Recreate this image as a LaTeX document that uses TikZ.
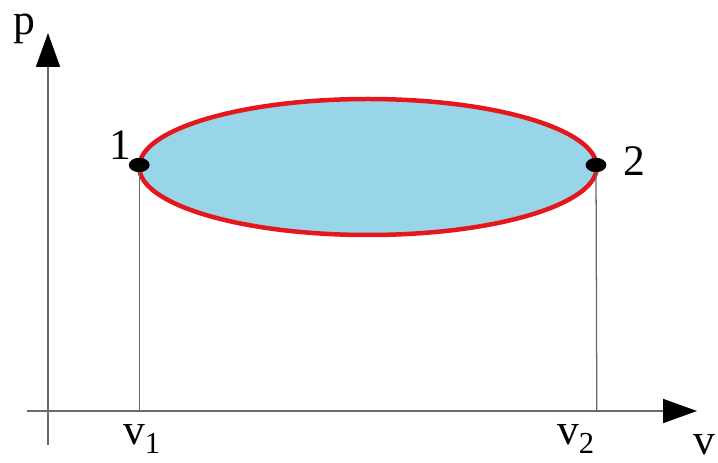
\documentclass[tikz,border=0pt]{standalone}
\usepackage{fontspec}
\setmainfont{Liberation Serif}
\usepackage{tikz}
\usetikzlibrary{arrows.meta,positioning,calc}
\definecolor{axisgrey}{RGB}{105,105,105}
\definecolor{cyclered}{RGB}{228,24,28}
\definecolor{cyclefill}{RGB}{152,213,232}
\tikzset{
  base/.style={font=\fontsize{31}{31}\selectfont, inner sep=1pt, text=black},
  axis/.style={draw=axisgrey, line width=1.3pt, -{Triangle[length=0.85cm,width=0.6cm,color=black,fill=black]}},
  drop/.style={draw=axisgrey, line width=0.9pt},
  cycle/.style={draw=cyclered, fill=cyclefill, line width=3.2pt},
}
\newcommand{\statept}[1]{\fill[black] (#1) ellipse (0.26 and 0.18);}

\begin{document}
\begin{tikzpicture}
  \useasboundingbox (0,0) rectangle (17.95,11.575);
  % axes
  \coordinate (ybot) at (1.2,0.45);
  \coordinate (ytop) at (1.2,10.75);
  \coordinate (xleft) at (0.675,1.3);
  \coordinate (xright) at (17.425,1.3);
  \draw[axis] (ybot) -- (ytop);
  \draw[axis] (xleft) -- (xright);
  \node[base] (plbl) at (0.6,10.85) {p};
  \node[base] (vlbl) at (17.6,0.45) {v};
  % cycle
  \coordinate (ctr) at (9.2,7.4);
  \draw[cycle] (ctr) ellipse (5.72 and 1.7);
  \coordinate (s1) at (3.48,7.45);
  \coordinate (s2) at (14.9,7.45);
  \coordinate (a1) at (3.48,1.3);
  \coordinate (a2) at (14.92,1.3);
  \draw[drop] (s1) -- (a1);
  \draw[drop] (s2) -- (a2);
  \statept{s1} \statept{s2}
  \node[base] (n1) at (3.0,7.95) {1};
  \node[base] (n2) at (15.85,7.55) {2};
  \node[base] (v1) at (3.55,0.6) {v\textsubscript{1}};
  \node[base] (v2) at (14.4,0.6) {v\textsubscript{2}};
\end{tikzpicture}
\end{document}
